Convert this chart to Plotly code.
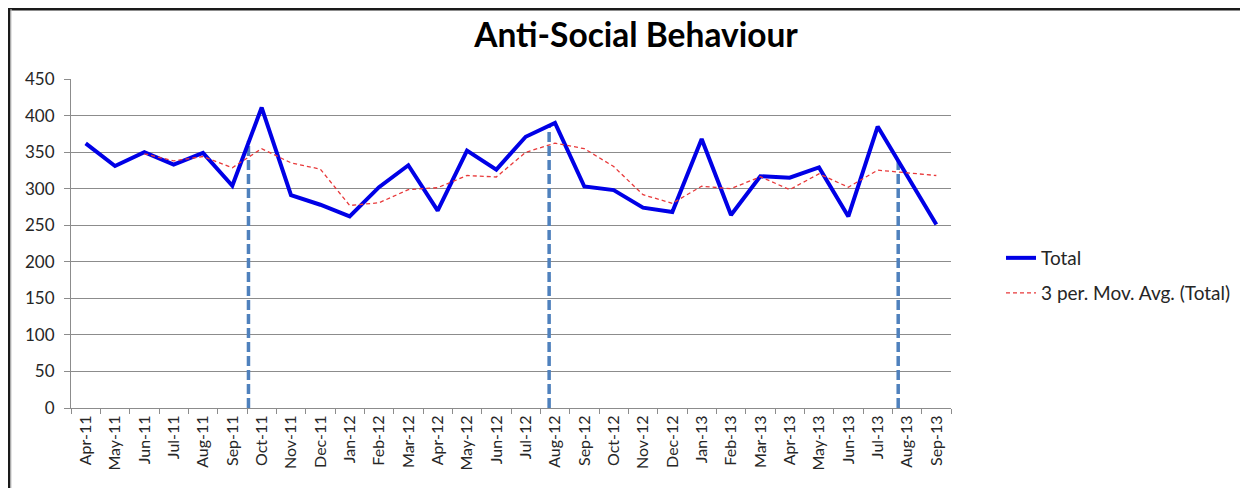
import plotly.graph_objects as go

# monthly counts, Apr-11 .. Sep-13
months = ['Apr-11', 'May-11', 'Jun-11', 'Jul-11', 'Aug-11', 'Sep-11', 'Oct-11',
          'Nov-11', 'Dec-11', 'Jan-12', 'Feb-12', 'Mar-12', 'Apr-12', 'May-12',
          'Jun-12', 'Jul-12', 'Aug-12', 'Sep-12', 'Oct-12', 'Nov-12', 'Dec-12',
          'Jan-13', 'Feb-13', 'Mar-13', 'Apr-13', 'May-13', 'Jun-13', 'Jul-13',
          'Aug-13', 'Sep-13']
total = [362, 331, 350, 333, 349, 304, 411, 291, 278, 262, 302, 332, 270, 352,
         326, 371, 390, 303, 298, 274, 268, 368, 264, 317, 315, 329, 262, 385,
         318, 251]
# 3 period moving average (starts at the third month)
mov_avg = [None, None, 347.7, 338.0, 344.0, 328.7, 354.7, 335.3, 326.7, 277.0,
           280.7, 298.7, 301.3, 318.0, 316.0, 349.7, 362.3, 354.7, 330.3, 291.7,
           280.0, 303.3, 300.0, 316.3, 298.7, 320.3, 302.0, 325.3, 321.7, 318.0]

# dashed marker lines (position in month index, height where they meet the line)
marker_pos = [5.55, 15.8, 27.7]
marker_top = [365, 386, 338]

y_ticks = [0, 50, 100, 150, 200, 250, 300, 350, 400, 450]

FONT = 'Lato'
GRID = '#8c8c8c'
TEXT = '#262626'

# the page body adds an 8px margin, so the figure is 8px smaller than the window
W, H = 1240, 480
PLOT_L, PLOT_T, PLOT_H, PLOT_W = 63, 71, 329, 880

idx = list(range(len(months)))

fig = go.Figure()

for pos, top in zip(marker_pos, marker_top):
    fig.add_trace(go.Scatter(
        x=[pos, pos], y=[0, top], mode='lines', showlegend=False, hoverinfo='skip',
        line=dict(color='#4f81bd', width=3.5, dash='10px,4px')))

fig.add_trace(go.Scatter(
    x=idx, y=total, mode='lines', name='Total', legend='legend',
    line=dict(color='#0000e6', width=4)))

fig.add_trace(go.Scatter(
    x=idx, y=mov_avg, mode='lines', name='3 per. Mov. Avg. (Total)', legend='legend2',
    line=dict(color='#e8393a', width=1.3, dash='4px,3px')))


def py(fig_y):
    # figure pixel row -> paper y
    return (PLOT_T + PLOT_H - fig_y) / PLOT_H


def px(fig_x):
    return (fig_x - PLOT_L) / PLOT_W


legend_style = dict(x=px(993), xanchor='left', yanchor='middle', bgcolor='rgba(0,0,0,0)',
                    font=dict(family=FONT, size=19, color=TEXT), itemwidth=30)

fig.update_layout(
    width=W, height=H,
    margin=dict(l=PLOT_L, r=W - PLOT_L - PLOT_W, t=PLOT_T, b=H - PLOT_T - PLOT_H,
                autoexpand=False),
    paper_bgcolor='white', plot_bgcolor='white',
    font=dict(family=FONT, size=15, color=TEXT),
    title=dict(text='<b>Anti-Social Behaviour</b>', x=628 / W, xref='container',
               xanchor='center', y=1 - 27 / H, yref='container', yanchor='middle',
               font=dict(family=FONT, size=33.5, color='black')),
    xaxis=dict(
        range=[-0.5, 29.5], tickmode='array', tickvals=idx, ticktext=months,
        tickangle=-90, ticks='', showgrid=False, zeroline=False,
        showline=True, linecolor=GRID, linewidth=1,
        tickfont=dict(family=FONT, size=16, color=TEXT),
        minor=dict(tick0=-0.5, dtick=1, ticks='outside', ticklen=5, tickcolor=GRID,
                   showgrid=False)),
    yaxis=dict(
        range=[0, 450], tickvals=y_ticks, showgrid=True, gridcolor=GRID, gridwidth=1,
        zeroline=False, showline=True, linecolor=GRID, linewidth=1,
        ticks='outside', ticklen=6, tickcolor=GRID, ticklabelstandoff=6,
        tickfont=dict(family=FONT, size=17, color=TEXT)),
    legend=dict(legend_style, y=py(250)),
    legend2=dict(legend_style, y=py(285)),
)

# chart frame: dark top and left edges, faint right edge
top_y = py(1)
fig.add_shape(type='line', xref='paper', yref='paper', x0=px(0), x1=px(W),
              y0=top_y, y1=top_y, line=dict(color='#1a1a1a', width=3))
fig.add_shape(type='line', xref='paper', yref='paper', x0=px(1), x1=px(1),
              y0=top_y, y1=py(H), line=dict(color='#1a1a1a', width=3))
fig.add_shape(type='line', xref='paper', yref='paper', x0=px(3), x1=px(3),
              y0=top_y, y1=py(H), line=dict(color='#c8c8c8', width=1))
fig.add_shape(type='line', xref='paper', yref='paper', x0=px(1238), x1=px(1238),
              y0=top_y, y1=py(H), line=dict(color='#d0d0d0', width=2))

fig.write_html('out.html')
